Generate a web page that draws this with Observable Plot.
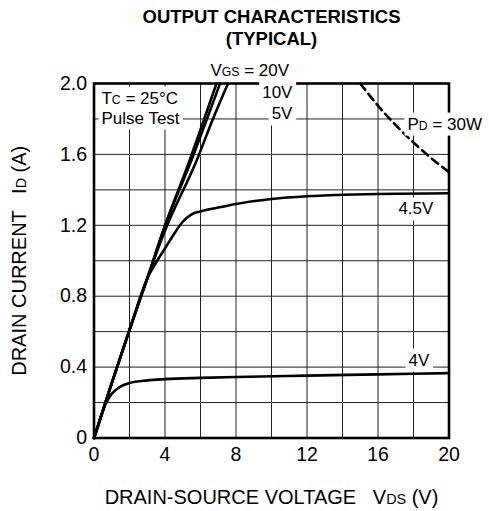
<!DOCTYPE html>
<html><head><meta charset="utf-8">
<script src="https://cdn.jsdelivr.net/npm/d3@7"></script>
<script src="https://cdn.jsdelivr.net/npm/@observablehq/plot@0.6"></script>
<style>body{margin:0;background:#fff} #chart svg{display:block}</style>
</head><body><div id="chart"></div>
<script>
// ---- data ----
const xTicks = [0, 4, 8, 12, 16, 20];
const yTicks = [0, 0.4, 0.8, 1.2, 1.6, 2.0];
const yTickLabels = ["0", "0.4", "0.8", "1.2", "1.6", "2.0"];
const xGrid = [2, 4, 6, 8, 10, 12, 14, 16, 18];
const yGrid = [0.2, 0.4, 0.6, 0.8, 1.0, 1.2, 1.4, 1.6, 1.8];

const vgs20 = [[0,0],[1,0.31],[2,0.61],[3,0.9],[3.9,1.17],[5.4,1.57],[6.9,2.0]];
const vgs10 = [[0,0],[1,0.31],[2,0.61],[3,0.9],[3.9,1.17],[5.5,1.57],[7.1,2.0]];
const vgs5  = [[0,0],[1,0.31],[2,0.61],[3,0.9],[4,1.17],[5.8,1.57],[6.7,1.8],[7.55,2.0]];
const vgs45 = [[0,0],[1,0.31],[2,0.61],[3,0.9],[3.5,0.99],[4,1.07],[4.5,1.15],[5,1.22],[5.5,1.262],[6,1.278],[7,1.3],[8,1.32],[10,1.348],[12,1.364],[14,1.372],[16,1.377],[20,1.381]];
const vgs4  = [[0,0],[0.3,0.09],[0.65,0.19],[1,0.25],[1.5,0.29],[2,0.31],[3,0.325],[4,0.332],[6,0.339],[8,0.344],[12,0.352],[16,0.359],[20,0.366]];
const pd30  = [[15,2.0],[16,1.875],[17,1.765],[18,1.667],[19,1.579],[20,1.5]];

const annotText   = ["V{GS} = 20V", "10V", "5V", "T{C} = 25°C", "Pulse Test", "P{D} = 30W", "4.5V", "4V"];
const annotX      = [6.56, 11.18, 11.18, 0.42, 0.42, 17.66, 17.15, 17.72];
const annotY      = [2.045, 1.921, 1.797, 1.887, 1.774, 1.74, 1.261, 0.409];
const annotAnchor = ["start", "end", "end", "start", "start", "start", "start", "start"];

const title = "OUTPUT CHARACTERISTICS\n(TYPICAL)";
const xLabel = "DRAIN-SOURCE VOLTAGE   V{DS} (V)";
const yLabel = "DRAIN CURRENT   I{D} (A)";

// ---- tables ----
const toRows = (arr, s) => arr.map(([v, i]) => ({v, i, s}));
const solid = [
  ...toRows(vgs20, "20V"), ...toRows(vgs10, "10V"), ...toRows(vgs5, "5V"),
  ...toRows(vgs45, "4.5V"), ...toRows(vgs4, "4V")
];
const dashed = toRows(pd30, "PD");
const annots = annotText.map((t, k) => ({t, x: annotX[k], y: annotY[k], a: annotAnchor[k]}));

const font = "'Liberation Sans', Arial, Helvetica, sans-serif";

const annotMarks = ["start", "end"].map(a => Plot.text(annots.filter(d => d.a === a), {
  x: "x", y: "y", text: "t", textAnchor: a, lineAnchor: "bottom", fontSize: 17, fill: "black"
}));

const chart = Plot.plot({
  width: 489,
  height: 511,
  marginLeft: 93.5,
  marginRight: 40.5,
  marginTop: 83,
  marginBottom: 73.5,
  style: {fontFamily: font, fontSize: "19.5px", background: "white", color: "black"},
  x: {domain: [0, 20]},
  y: {domain: [0, 2]},
  marks: [
    Plot.gridX(xGrid, {stroke: "#222", strokeOpacity: 1, strokeWidth: 1}),
    Plot.gridY(yGrid, {stroke: "#222", strokeOpacity: 1, strokeWidth: 1}),
    Plot.frame({stroke: "black", strokeWidth: 2.6}),
    Plot.line(solid, {x: "v", y: "i", z: "s", curve: "monotone-x", stroke: "black", strokeWidth: 2.6}),
    Plot.line(dashed, {x: "v", y: "i", curve: "monotone-x", stroke: "black", strokeWidth: 2.6, strokeDasharray: "8,5"}),
    ...annotMarks,
    Plot.axisX(xTicks, {tickSize: 0, tickPadding: 9, fontSize: 19.5, label: xLabel, labelAnchor: "center", labelOffset: 66}),
    Plot.axisY(yTicks, {tickSize: 0, tickPadding: 7, fontSize: 19.5, tickFormat: d => yTickLabels[yTicks.indexOf(d)], label: yLabel, labelAnchor: "center", labelOffset: 82}),
    Plot.text([title], {frameAnchor: "top", dy: -39, lineAnchor: "bottom", lineHeight: 1.16, fontWeight: "bold", fontSize: 18.5})
  ]
});

// strip axis-label arrows, then draw text inside {} smaller (subscript style)
d3.select(chart).selectAll("text").each(function () {
  let s = this.textContent;
  if (/[↑↓←→]/.test(s) && this.childElementCount === 0) {
    s = s.replace(/[↑↓←→]/g, "").trim();
    this.textContent = s;
  }
  if (!s.includes("{")) return;
  const isAxisLabel = s === xLabel || s === yLabel;
  const parts = s.split(/(\{[^}]*\})/).filter(p => p.length);
  while (this.firstChild) this.removeChild(this.firstChild);
  for (const p of parts) {
    const ts = document.createElementNS("http://www.w3.org/2000/svg", "tspan");
    if (p.startsWith("{")) { ts.textContent = p.slice(1, -1); ts.setAttribute("font-size", "0.72em"); }
    else ts.textContent = p;
    this.appendChild(ts);
  }
  if (isAxisLabel) this.setAttribute("font-size", "20");
});

document.getElementById("chart").appendChild(chart);

// white boxes behind the annotations (as in the datasheet), sized from the rendered text
const plain = annotText.map(t => t.replace(/[{}]/g, ""));
const annotEls = Array.from(chart.querySelectorAll("text")).filter(el => plain.includes(el.textContent));
if (annotEls.length) {
  const svgBox = chart.getBoundingClientRect();
  const firstGroup = annotEls[0].parentNode;
  const bg = document.createElementNS("http://www.w3.org/2000/svg", "g");
  const padX = 3, padY = 2;
  for (const el of annotEls) {
    const r = el.getBoundingClientRect();
    const rect = document.createElementNS("http://www.w3.org/2000/svg", "rect");
    rect.setAttribute("x", r.left - svgBox.left - padX);
    rect.setAttribute("y", r.top - svgBox.top - padY);
    rect.setAttribute("width", r.width + 2 * padX);
    rect.setAttribute("height", r.height + 2 * padY);
    rect.setAttribute("fill", "white");
    bg.appendChild(rect);
  }
  firstGroup.parentNode.insertBefore(bg, firstGroup);
}
</script>
</body></html>
